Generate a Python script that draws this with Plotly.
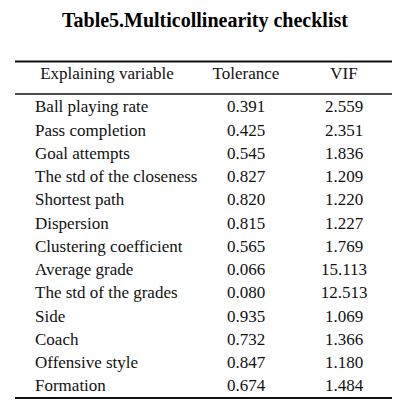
import plotly.graph_objects as go

title = "Table5.Multicollinearity checklist"
headers = ["Explaining variable", "Tolerance", "VIF"]
variables = ["Ball playing rate", "Pass completion", "Goal attempts",
             "The std of the closeness", "Shortest path", "Dispersion",
             "Clustering coefficient", "Average grade", "The std of the grades",
             "Side", "Coach", "Offensive style", "Formation"]
tolerance = ["0.391", "0.425", "0.545", "0.827", "0.820", "0.815", "0.565",
             "0.066", "0.080", "0.935", "0.732", "0.847", "0.674"]
vif = ["2.559", "2.351", "1.836", "1.209", "1.220", "1.227", "1.769",
       "15.113", "12.513", "1.069", "1.366", "1.180", "1.484"]

W = H = 419
FONT = "Liberation Serif, Times New Roman, serif"
fs = 17

row0 = 108
dy = 23.25
ys = [row0 + i * dy for i in range(len(variables))]
hy = 75

x_var = 35
x_tol = 246
x_vif = 344

fig = go.Figure()
fig.add_trace(go.Scatter(x=[x_var] * len(variables), y=ys, text=variables,
                         mode="text", textposition="middle right",
                         textfont=dict(family=FONT, size=fs, color="#111")))
fig.add_trace(go.Scatter(x=[x_tol] * len(tolerance), y=ys, text=tolerance,
                         mode="text", textposition="middle center",
                         textfont=dict(family=FONT, size=fs, color="#111")))
fig.add_trace(go.Scatter(x=[x_vif] * len(vif), y=ys, text=vif,
                         mode="text", textposition="middle center",
                         textfont=dict(family=FONT, size=fs, color="#111")))
fig.add_trace(go.Scatter(x=[107, x_tol, x_vif], y=[hy] * 3, text=headers,
                         mode="text", textposition="middle center",
                         textfont=dict(family=FONT, size=fs, color="#111")))

x0, x1 = 15, 392
for yy, w in [(61.5, 1.8), (94, 1.5), (398, 1.8)]:
    fig.add_shape(type="line", x0=x0, x1=x1, y0=yy, y1=yy,
                  line=dict(color="#111", width=w))

fig.add_annotation(x=205, y=20, text="<b>" + title + "</b>", showarrow=False,
                   font=dict(family=FONT, size=20, color="#000"))

fig.update_layout(width=W, height=H, margin=dict(l=0, r=0, t=0, b=0),
                  plot_bgcolor="white", paper_bgcolor="white", showlegend=False,
                  xaxis=dict(range=[0, W], visible=False, fixedrange=True),
                  yaxis=dict(range=[H, 0], visible=False, fixedrange=True))
fig.write_html("out.html", config={"displayModeBar": False},
               post_script="document.body.style.margin='0';document.body.style.overflow='hidden';")
